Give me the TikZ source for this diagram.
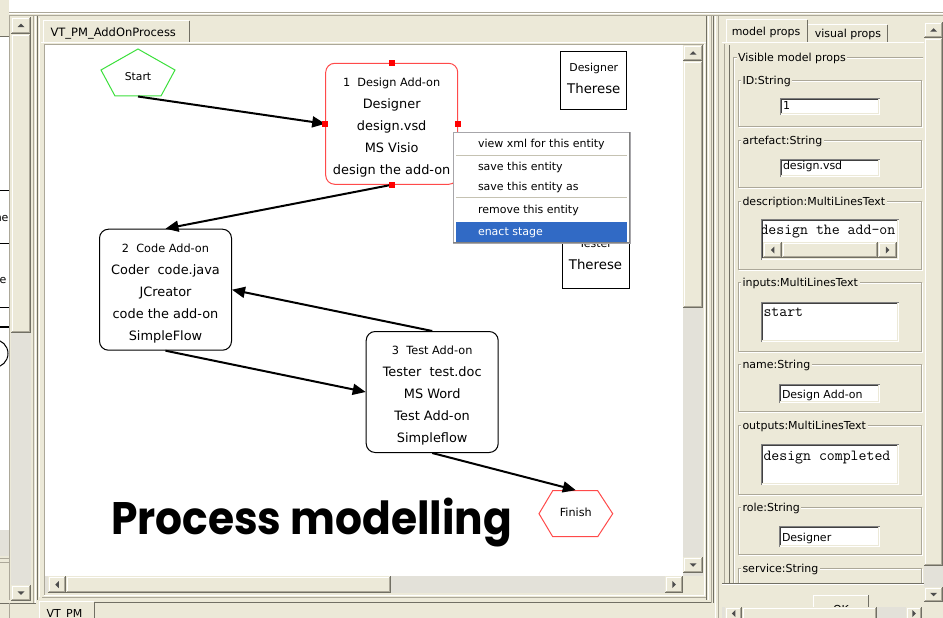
\documentclass[tikz,border=0pt]{standalone}
\usepackage{fontspec}
\usepackage{graphicx}
\setmainfont{DejaVu Sans}
\newfontfamily\titlefont{Poppins}
\usetikzlibrary{arrows.meta}

\definecolor{xpbg}{HTML}{ECE9D8}
\definecolor{xpdark}{HTML}{ACA899}
\definecolor{xpdarker}{HTML}{716F64}
\definecolor{xptrack}{HTML}{E3E1D9}
\definecolor{fielddark}{HTML}{808080}
\definecolor{fielddarker}{HTML}{404040}
\definecolor{selblue}{HTML}{316AC5}
\definecolor{menuline}{HTML}{C5C2B2}
\definecolor{menuedge}{HTML}{A7A6AA}
\definecolor{startgreen}{HTML}{3CE03C}
\definecolor{stagered}{HTML}{FF4A4A}
\definecolor{handlered}{HTML}{FF0000}
\definecolor{glyph}{HTML}{4D4D4D}

\newcommand\uifont{\fontsize{11}{13}\selectfont}
\newcommand\stagefont{\fontsize{12.9}{22}\selectfont}
\newcommand\headfont{\fontsize{11.3}{22}\selectfont\rule{0pt}{16.5pt}}
\newcommand\fieldmono{\ttfamily\fontsize{15.4}{18}\selectfont}

% raised 3D element (button, thumb): x1 y1 x2 y2
\newcommand\xpraised[4]{%
  \fill[xpbg] (#1,#2) rectangle (#3,#4);
  \draw[white] (#1+1.5,#4-1) -- (#1+1.5,#2+1.5) -- (#3-1,#2+1.5);
  \draw[xpdark] (#1+1,#4-1.5) -- (#3-1.5,#4-1.5) -- (#3-1.5,#2+1);
  \draw[xpdarker] (#1,#4-0.5) -- (#3-0.5,#4-0.5) -- (#3-0.5,#2);
}
% sunken text field: x1 y1 x2 y2
\newcommand\xpfield[4]{%
  \fill[white] (#1,#2) rectangle (#3,#4);
  \draw[fielddark] (#1+0.5,#4) -- (#1+0.5,#2+0.5) -- (#3,#2+0.5);
  \draw[fielddarker] (#1+1.5,#4-1) -- (#1+1.5,#2+1.5) -- (#3-1,#2+1.5);
  \draw[xpbg] (#1+1,#4-1.5) -- (#3-1.5,#4-1.5) -- (#3-1.5,#2+1);
}
% etched group frame with its caption: x1 y1 x2 y2 name caption
\newcommand\xpgroup[6]{%
  \draw[white] (#1+1,#2+1) rectangle (#3+1,#4+1);
  \draw[xpdark] (#1,#2) rectangle (#3,#4);
  \node[grplabel] (#5) at (#1+2,#2) {#6};
}
% scroll button arrows
\newcommand\glyphup[2]{\fill[glyph] (#1-3.5,#2+1.75) -- (#1+3.5,#2+1.75) -- (#1,#2-1.75) -- cycle;}
\newcommand\glyphdown[2]{\fill[glyph] (#1-3.5,#2-1.75) -- (#1+3.5,#2-1.75) -- (#1,#2+1.75) -- cycle;}
\newcommand\glyphleft[2]{\fill[glyph] (#1+1.75,#2-3.5) -- (#1+1.75,#2+3.5) -- (#1-1.75,#2) -- cycle;}
\newcommand\glyphright[2]{\fill[glyph] (#1-1.75,#2-3.5) -- (#1-1.75,#2+3.5) -- (#1+1.75,#2) -- cycle;}

\begin{document}
\begin{tikzpicture}[x=1pt,y=-1pt,line width=1pt,
  lbl/.style={inner sep=0pt,text height=8pt,text depth=0pt,font=\uifont},
  grplabel/.style={lbl,anchor=west,fill=xpbg,inner xsep=1.5pt},
  monotext/.style={inner sep=0pt,anchor=base west,font=\fieldmono},
  stagebox/.style={draw,fill=white,rounded corners=9pt,minimum width=132pt,
    minimum height=121pt,inner sep=0pt,align=center,font=\stagefont},
  rolebox/.style={draw,fill=white,inner sep=0pt,align=center,
    font=\fontsize{11}{22}\selectfont},
  handle/.style={fill=handlered,minimum size=6pt,inner sep=0pt},
  conn/.style={line width=2pt,-{Triangle[length=13pt,width=11pt]}},
]
\useasboundingbox (0,0) rectangle (943,618);
\clip (0,0) rectangle (943,618);

% ---------- window background ----------
\fill[xpbg] (0,0) rectangle (943,618);
\fill[white] (9,0) rectangle (943,12);
\draw[xpdark] (9,12.5) -- (943,12.5);
\draw[white] (9,13.5) -- (943,13.5);
\draw[xpdark] (9,15.5) -- (943,15.5);

% ---------- neighbouring panel on the far left ----------
\fill[white] (0,37) rectangle (9,556);
\draw[xpdarker] (0,36.5) -- (9,36.5);
\begin{scope}
  \clip (0,37) rectangle (9,556);
  \draw (0,190.5) -- (9,190.5);
  \node[lbl,anchor=east] (fragne) at (9,217) {ne};
  \draw (0,243.5) -- (9,243.5);
  \node[lbl,anchor=east] (frage) at (7,279) {e};
  \draw (0,307.5) -- (9,307.5);
  \draw[line width=2pt] (0,327) -- (9,327);
  \draw (-6,353.5) circle (14);
  \fill[xptrack] (0,530) rectangle (9,556);
\end{scope}
\draw[xpdark] (0,558.5) -- (9,558.5);
\draw[xpdark] (0,562.5) -- (9,562.5);
\draw[xpdarker] (0,603.5) -- (36,603.5);
\draw[xpdark] (9.5,603) -- (9.5,618);
\draw[xpdark] (9.5,16) -- (9.5,600);

% left scrollbar
\fill[xptrack] (11,17) rectangle (31,600);
\xpraised{11}{17}{31}{34}
\glyphup{21}{25.5}
\xpraised{11}{34}{31}{333}
\xpraised{11}{585}{31}{601}
\glyphdown{21}{593}

% separators
\draw[xpdark] (33.5,16) -- (33.5,603);
\draw[white] (35.5,16) -- (35.5,603);
\draw[xpdarker] (37.5,16) -- (37.5,600);
\draw[white] (39.5,18) -- (39.5,597);

% ---------- main editor panel ----------
\fill[xpbg] (43,20) rectangle (190,43);
\draw[white] (43.5,43) -- (43.5,20.5) -- (189,20.5);
\draw[xpdarker] (189.5,21) -- (189.5,43);
\node[lbl,anchor=west,font=\fontsize{11.5}{13}\selectfont] (tabmain) at (50,32.5) {VT\_PM\_AddOnProcess};

\draw[white] (41,42.5) -- (706,42.5);
\draw[xpdark] (44.5,596) -- (44.5,44.5) -- (704,44.5);
\draw[white] (44,595.5) -- (704.5,595.5) -- (704.5,44);
\fill[white] (45,45) rectangle (683,576);

% canvas scrollbars
\fill[xptrack] (683,45) rectangle (703,576);
\xpraised{683}{45}{703}{61}
\glyphup{693}{53}
\xpraised{683}{61}{703}{308}
\xpraised{683}{557}{703}{573}
\glyphdown{693}{565}
\fill[xptrack] (45,576) rectangle (683,593);
\xpraised{48}{576}{66}{593}
\glyphleft{57}{584.5}
\xpraised{66}{576}{391}{593}
\xpraised{665}{576}{683}{593}
\glyphright{674}{584.5}

% bottom tab strip
\draw[xpdark] (42,597.5) -- (706,597.5);
\draw[xpdarker] (95,602.5) -- (712,602.5);
\fill[xpbg] (39,601) rectangle (95,618);
\draw[white] (39.5,618) -- (39.5,601.5) -- (94,601.5);
\draw[xpdarker] (94.5,602) -- (94.5,618);
\node[lbl,anchor=west] (tabbottom) at (46,613.5) {VT\_PM};

% separators between the panels
\draw[xpdarker] (706.5,16) -- (706.5,600);
\draw[white] (708.5,16) -- (708.5,600);
\draw[xpdark] (711.5,16) -- (711.5,603);
\draw[xpdarker] (713.5,16) -- (713.5,603);
\draw[white] (715.5,16) -- (715.5,618);
\draw[xpdark] (718.5,16) -- (718.5,618);

% ---------- process model ----------
\node[stagebox,draw=stagered] (design) at (391.7,123.8)
  {{\headfont 1~~Design Add-on}\\Designer\\design.vsd\\MS Visio\\design the add-on};
\node[stagebox] (code) at (165.5,289.7)
  {{\headfont 2~~Code Add-on}\\Coder~~code.java\\JCreator\\code the add-on\\SimpleFlow};
\node[stagebox] (test) at (432.2,392)
  {{\headfont 3~~Test Add-on}\\Tester~~test.doc\\MS Word\\Test Add-on\\Simpleflow};

\node[rolebox,minimum width=66pt,minimum height=57.6pt] (designer) at (593.8,80.5)
  {{\fontsize{10.9}{22}\selectfont Designer}\\{\fontsize{13.3}{22}\selectfont Therese\rule[-5pt]{0pt}{5pt}}};
\node[rolebox,minimum width=67pt,minimum height=59.6pt] (tester) at (595.5,258.2)
  {{\fontsize{10.9}{22}\selectfont Tester}\\{\fontsize{13.3}{22}\selectfont Therese\rule[-8pt]{0pt}{8pt}}};

\node[inner sep=0pt,minimum width=74pt,minimum height=47pt,text height=16.4pt,text depth=0pt,
  font=\fontsize{10.8}{13}\selectfont] (start) at (138,72.5) {Start};
\draw[startgreen] (138,49) -- (175,70) -- (161,96) -- (115,96) -- (101,70) -- cycle;

\node[inner sep=0pt,minimum width=74pt,minimum height=46pt,text height=6pt,text depth=0pt,
  font=\fontsize{11.2}{13}\selectfont] (finish) at (575.8,513.7) {Finish};
\draw[stagered] (539,513.7) -- (552.7,490.7) -- (597.7,490.7) -- (612.7,513.7)
  -- (597.7,536.7) -- (552.7,536.7) -- cycle;

\draw[conn] (start.south) -- (design.west);
\draw[conn] (design.south) -- (code.north);
\draw[conn] (test.north) -- (code.east);
\draw[conn] (code.south) -- (test.west);
\draw[conn] (test.south) -- (finish.north);

\node[handle] (hn) at (design.north) {};
\node[handle] (hw) at (design.west) {};
\node[handle] (he) at (design.east) {};
\node[handle] (hs) at (design.south) {};

\node[anchor=north west,inner sep=0pt] (title) at (110.5,497.5)
  {\resizebox*{401pt}{49pt}{\titlefont\bfseries Process modelling}};

% context menu
\node[draw=menuedge,fill=white,minimum width=177pt,minimum height=111pt,inner sep=0pt] (menu) at (541.5,187.5) {};
\draw[fielddark] (629.5,132) -- (629.5,242.5) -- (453,242.5);
\node[lbl,anchor=west] (mview) at (477.5,143.7) {view xml for this entity};
\draw[menuline] (456,155.5) -- (627,155.5);
\node[lbl,anchor=west] (msave) at (477.5,166) {save this entity};
\node[lbl,anchor=west] (msaveas) at (477.5,186) {save this entity as};
\draw[menuline] (456,197.5) -- (627,197.5);
\node[lbl,anchor=west] (mremove) at (477.5,209) {remove this entity};
\fill[selblue] (456,222) rectangle (627,242);
\node[lbl,anchor=west,text=white] (menact) at (477.5,231) {enact stage};

% ---------- properties panel ----------
\fill[xpbg] (726,19) rectangle (808,43);
\draw[white] (726.5,43) -- (726.5,19.5) -- (807,19.5);
\draw[xpdarker] (807.5,20) -- (807.5,43);
\node[lbl] (tabmodel) at (766,32) {model props};
\fill[xpbg] (808,24) rectangle (888,43);
\draw[white] (808,24.5) -- (887,24.5);
\draw[xpdarker] (887.5,25) -- (887.5,43);
\node[lbl] (tabvisual) at (848,33.5) {visual props};

\draw[white] (722,42.5) -- (924,42.5);
\draw[xpdark] (724.5,44) -- (724.5,584);
\draw[xpdarker] (729.5,45) -- (729.5,583);

% right scrollbar
\fill[xptrack] (924,22) rectangle (943,602);
\xpraised{924}{22}{943}{38}
\glyphup{933.5}{30}
\xpraised{924}{38}{943}{566}
\xpraised{924}{587}{943}{602}
\glyphdown{933.5}{594.5}

\begin{scope}
  \clip (730,45) rectangle (923,583);
  \draw[white] (734.5,700) -- (734.5,58.5) -- (940,58.5);
  \draw[xpdark] (733.5,700) -- (733.5,57.5) -- (940,57.5);
  \node[grplabel] (visible) at (736,57.5) {Visible model props};

  \xpgroup{738.5}{80.5}{921.5}{126.5}{gid}{ID:String}
  \xpfield{780}{98}{880}{114.5}
  \node[lbl,anchor=west] (vid) at (782.5,106) {1};

  \xpgroup{738.5}{140.5}{921.5}{187.5}{gart}{artefact:String}
  \xpfield{780}{159}{880}{177}
  \node[lbl,anchor=west] (vart) at (782.5,165.5) {design.vsd};

  \xpgroup{738.5}{201.5}{921.5}{269.5}{gdesc}{description:MultiLinesText}
  \xpfield{761}{219}{899}{260}
  \begin{scope}
    \clip (762,220) rectangle (897,242);
    \node[monotext] (vdesc) at (760,234) {design the add-on};
  \end{scope}
  \fill[xptrack] (763,242) rectangle (897,258);
  \xpraised{763}{242}{782}{258}
  \glyphleft{772.5}{250}
  \xpraised{782}{242}{878}{258}
  \xpraised{878}{242}{897}{258}
  \glyphright{887.5}{250}

  \xpgroup{738.5}{282.5}{921.5}{351.5}{gin}{inputs:MultiLinesText}
  \xpfield{761}{302}{899}{342}
  \node[monotext] (vin) at (763,316.5) {start};

  \xpgroup{738.5}{364.5}{921.5}{411.5}{gname}{name:String}
  \xpfield{779}{383.5}{880}{403}
  \node[lbl,anchor=west] (vname) at (781.5,394.5) {Design Add-on};

  \xpgroup{738.5}{425.5}{921.5}{494.5}{gout}{outputs:MultiLinesText}
  \xpfield{761}{443.5}{899}{485}
  \node[monotext] (vout) at (763,460) {design completed};

  \xpgroup{738.5}{507.5}{921.5}{554.5}{grole}{role:String}
  \xpfield{779}{526}{880}{547}
  \node[lbl,anchor=west] (vrole) at (781.5,537) {Designer};

  \xpgroup{738.5}{568.5}{921.5}{640}{gsvc}{service:String}
\end{scope}

\draw[xpdarker] (722,583.5) -- (924,583.5);
\draw[white] (722,584.5) -- (924,584.5);

% OK button, mostly hidden under the scrollbar
\fill[xpbg] (813,595) rectangle (869,607);
\draw[white] (813.5,607) -- (813.5,595.5) -- (868,595.5);
\draw[xpdarker] (868.5,595) -- (868.5,607);
\begin{scope}
  \clip (814,596) rectangle (868,607);
  \node[lbl] (okbtn) at (841,609.5) {OK};
\end{scope}

% bottom scrollbar of the properties panel
\fill[xptrack] (722,607) rectangle (922,618);
\xpraised{725}{607}{742}{624}
\glyphleft{733.5}{613.5}
\xpraised{742}{607}{877}{624}
\xpraised{906}{607}{922}{624}
\glyphright{914}{613.5}
\end{tikzpicture}
\end{document}
